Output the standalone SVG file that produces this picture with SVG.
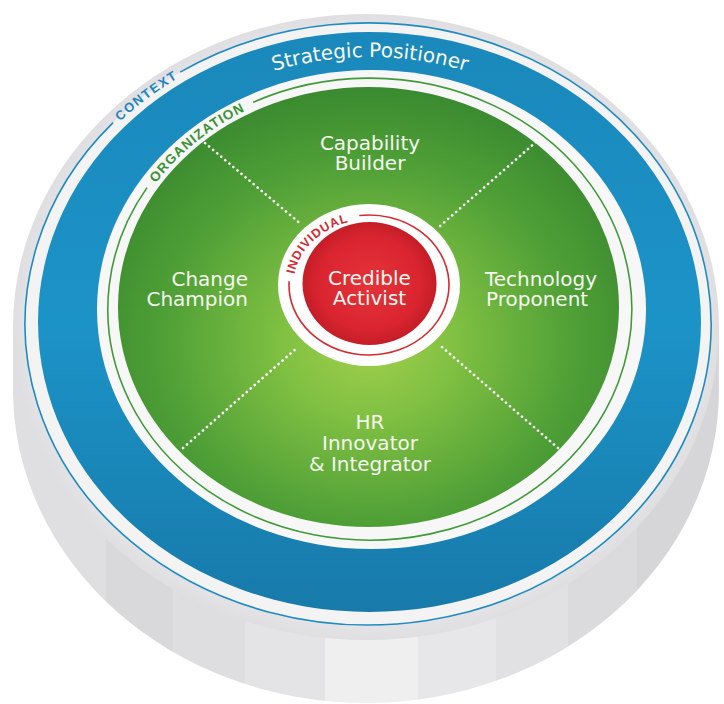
<svg xmlns="http://www.w3.org/2000/svg" width="724" height="704" viewBox="0 0 724 704">
  <style>
    .lbl { font-family: "DejaVu Sans", "Liberation Sans", sans-serif; font-size: 20px; fill: #f6f9f0; }
    .ring-lbl { font-family: "Liberation Sans", Arial, sans-serif; font-weight: bold; }
    .dots { stroke: #ffffff; stroke-width: 2.6; stroke-linecap: round; stroke-dasharray: 0.1 5.2; fill: none; }
  </style>
  <defs>
    <clipPath id="side-clip">
      <path d="M 13,327 L 13,390 A 353 313 0 0 0 719,390 L 719,327 Z"/>
    </clipPath>
    <radialGradient id="rim-grad" cx="0.5" cy="0.5" r="0.5">
      <stop offset="0.85" stop-color="#eeeef0"/>
      <stop offset="1" stop-color="#dfdfe2"/>
    </radialGradient>
    <linearGradient id="blue-grad" x1="0" y1="0" x2="0" y2="1">
      <stop offset="0" stop-color="#1a88bb"/>
      <stop offset="0.5" stop-color="#1c93c7"/>
      <stop offset="1" stop-color="#177aaa"/>
    </linearGradient>
    <radialGradient id="green-grad" cx="0.5" cy="0.58" r="0.58">
      <stop offset="0" stop-color="#a2d04b"/>
      <stop offset="0.3" stop-color="#80c042"/>
      <stop offset="0.7" stop-color="#50a037"/>
      <stop offset="1" stop-color="#3a8a30"/>
    </radialGradient>
    <radialGradient id="red-grad" cx="0.5" cy="0.5" r="0.5">
      <stop offset="0" stop-color="#e5333a"/>
      <stop offset="0.75" stop-color="#da2530"/>
      <stop offset="1" stop-color="#c41d27"/>
    </radialGradient>
    <path id="ctx-path" d="M 29,324 A 339 297 0 0 1 707,324"/>
    <path id="sp-path" d="M 70,322 A 300 265 0 0 1 670,322"/>
    <path id="org-path" d="M 112.5,309 A 257.5 226.5 0 0 1 627.5,309"/>
    <path id="ind-path" d="M 293.5,285 A 75.5 65.5 0 0 1 444.5,285"/>
  </defs>

  <!-- cylinder side -->
  <g id="base">
    <g clip-path="url(#side-clip)">
      <rect x="0" y="300" width="106" height="404" fill="#dfdfe1"/>
      <rect x="106" y="300" width="67" height="404" fill="#d9d9db"/>
      <rect x="173" y="300" width="72" height="404" fill="#dedee0"/>
      <rect x="245" y="300" width="80" height="404" fill="#e4e4e6"/>
      <rect x="325" y="300" width="93" height="404" fill="#efeff0"/>
      <rect x="418" y="300" width="78" height="404" fill="#e7e7e9"/>
      <rect x="496" y="300" width="72" height="404" fill="#e1e1e3"/>
      <rect x="568" y="300" width="69" height="404" fill="#dbdbdd"/>
      <rect x="637" y="300" width="87" height="404" fill="#d6d6d8"/>
    </g>
    <ellipse cx="366" cy="327" rx="353" ry="313" fill="url(#rim-grad)"/>
    <ellipse cx="368" cy="324" rx="343" ry="301" fill="#f3f3f4"/>
  </g>

  <!-- Context ring -->
  <g id="context">
    <path d="M 180.2,72.1 A 343 301 0 1 1 113.1,122.6" fill="none" stroke="#1f8bc0" stroke-width="1.6"/>
    <text class="ring-lbl" font-size="13" letter-spacing="1.6" fill="#1f86bd" text-anchor="middle"><textPath href="#ctx-path" startOffset="265">CONTEXT</textPath></text>
  </g>

  <!-- Strategic Positioner band -->
  <g id="strategic-positioner">
    <ellipse cx="369.5" cy="322" rx="331.5" ry="290" fill="url(#blue-grad)"/>
    <ellipse cx="371.5" cy="309.5" rx="274.5" ry="239.5" fill="#f7f7f7"/>
    <text class="lbl" font-size="21" text-anchor="middle"><textPath href="#sp-path" startOffset="50%">Strategic Positioner</textPath></text>
  </g>

  <!-- Organization ring -->
  <g id="organization">
    <path d="M 253.1,102.3 A 262 231 0 1 1 147,187.6" fill="none" stroke="#3f9a3a" stroke-width="1.6"/>
    <text class="ring-lbl" font-size="13.5" letter-spacing="1.1" fill="#3a9236" text-anchor="middle"><textPath href="#org-path" startOffset="193.6">ORGANIZATION</textPath></text>
    <ellipse cx="368.5" cy="307" rx="250.5" ry="220" fill="url(#green-grad)"/>
  </g>

  <!-- connectors (dotted dividers) -->
  <g id="connectors">
    <line class="dots" x1="205" y1="143" x2="302" y2="225"/>
    <line class="dots" x1="536" y1="142" x2="440" y2="226"/>
    <line class="dots" x1="183" y1="448" x2="298" y2="347"/>
    <line class="dots" x1="558" y1="448" x2="442" y2="347"/>
  </g>

  <g id="capability-builder">
    <text class="lbl" text-anchor="middle"><tspan x="370" y="150">Capability</tspan><tspan x="370" y="170">Builder</tspan></text>
  </g>
  <g id="change-champion">
    <text class="lbl" text-anchor="end"><tspan x="248" y="286">Change</tspan><tspan x="248" y="306">Champion</tspan></text>
  </g>
  <g id="technology-proponent">
    <text class="lbl" font-size="19.5"><tspan x="485" y="286">Technology</tspan><tspan x="486" y="306">Proponent</tspan></text>
  </g>
  <g id="hr-innovator-integrator">
    <text class="lbl" text-anchor="middle"><tspan x="370" y="429">HR</tspan><tspan x="370" y="450">Innovator</tspan><tspan x="370" y="471">&amp; Integrator</tspan></text>
  </g>

  <!-- Individual / Credible Activist -->
  <g id="individual">
    <ellipse cx="369" cy="285" rx="91" ry="81" fill="#ffffff"/>
    <path d="M 359.3,215.5 A 80 70 0 1 1 289.1,281.3" fill="none" stroke="#d42a30" stroke-width="1.6"/>
    <text class="ring-lbl" font-size="12.5" letter-spacing="0.8" fill="#d42a30" text-anchor="middle"><textPath href="#ind-path" startOffset="50.5">INDIVIDUAL</textPath></text>
  </g>
  <g id="credible-activist">
    <ellipse cx="369.5" cy="283.5" rx="67" ry="61.5" fill="url(#red-grad)"/>
    <text class="lbl" text-anchor="middle"><tspan x="369.5" y="285">Credible</tspan><tspan x="369.5" y="305">Activist</tspan></text>
  </g>
</svg>
